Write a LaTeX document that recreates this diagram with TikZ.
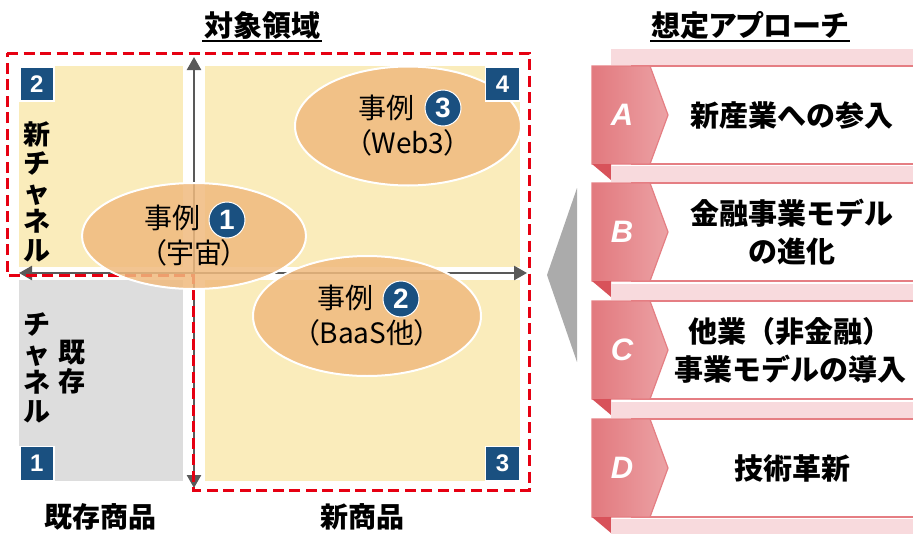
\documentclass[tikz,border=0pt]{standalone}
\usepackage{fontspec}
\setmainfont{Noto Sans CJK JP}
\newfontfamily\jpprop{Noto Sans CJK JP}[RawFeature=+palt]
\newfontfamily\arialfont{Liberation Sans}
\usepackage{tikz}
\usetikzlibrary{shapes.geometric, arrows.meta, positioning, calc}
\usepackage{xcolor}
\definecolor{quadYellow}{RGB}{250,236,187}
\definecolor{quadGray}{RGB}{221,221,221}
\definecolor{axisGray}{RGB}{89,89,89}
\definecolor{scopeRed}{RGB}{230,0,18}
\definecolor{caseOrange}{RGB}{240,186,126}
\definecolor{badgeBlue}{RGB}{26,80,128}
\definecolor{ribbonPink}{RGB}{229,126,131}
\definecolor{tabLeft}{RGB}{226,121,126}
\definecolor{tabRight}{RGB}{236,162,165}
\definecolor{stripPink}{RGB}{248,218,221}
\definecolor{foldRed}{RGB}{216,82,90}
\definecolor{wedgeGray}{RGB}{171,171,171}
\tikzset{
    >={Triangle[length=13pt, width=14pt]},
    % Quadrants
    quad/.style={rectangle, anchor=north west, inner sep=0pt, minimum height=201pt},
    quadY/.style={quad, fill=quadYellow},
    quadG/.style={quad, fill=quadGray},
    badge/.style={rectangle, draw=white, line width=1.5pt, fill=badgeBlue, text=white,
                  minimum size=34pt, inner sep=0pt, font=\arialfont\bfseries\fontsize{24}{24}\selectfont},
    caseEll/.style={ellipse, draw=white, line width=2pt, fill=caseOrange, fill opacity=0.85,
                    text opacity=1, inner sep=0pt, align=center, font=\jpprop\fontsize{28}{35}\selectfont},
    caseNum/.style={circle, draw=white, line width=1pt, fill=badgeBlue, text=white,
                    minimum size=36pt, inner sep=0pt, font=\arialfont\bfseries\fontsize{28}{28}\selectfont},
    % Labels
    vlabel/.style={align=center, inner sep=0pt, font=\bfseries\fontsize{27}{29}\selectfont},
    axlabel/.style={inner sep=0pt, font=\bfseries\fontsize{28}{28}\selectfont},
    title/.style={inner sep=1.5pt, font=\jpprop\bfseries\fontsize{29}{29}\selectfont},
    uline/.style={line width=1.8pt},
    % Lines
    axis/.style={<->, line width=2.5pt, axisGray},
    scopeLine/.style={scopeRed, line width=3pt, dash pattern=on 11pt off 5.5pt},
    % Approaches
    band/.style={draw=ribbonPink, line width=1.8pt, fill=white},
    tab/.style={draw=ribbonPink, line width=1.2pt, left color=tabLeft, right color=tabRight},
    strip/.style={fill=stripPink},
    fold/.style={fill=foldRed},
    tabLetter/.style={text=white, inner sep=0pt, font=\arialfont\bfseries\itshape\fontsize{31}{31}\selectfont},
    rowText/.style={align=center, inner sep=0pt, font=\bfseries\fontsize{29}{38}\selectfont}
}

\begin{document}
\begin{tikzpicture}[x=1pt, y=-1pt]
\useasboundingbox (0,0) rectangle (913,533);

% Quadrants
\node[quadY, minimum width=164pt] (q2) at (19,66) {};
\node[quadY, minimum width=315pt] (q4) at (205,66) {};
\node[quadG, minimum width=164pt] (q1) at (19,280) {};
\node[quadY, minimum width=315pt] (q3) at (205,280) {};

% Axes
\coordinate (vTop) at (194,57);
\coordinate (vBot) at (194,488);
\coordinate (hLeft) at (19,273);
\coordinate (hRight) at (527,273);
\draw[axis] (vTop) -- (vBot);
\draw[axis] (hLeft) -- (hRight);

% Target area
\draw[scopeLine] (7,53) -- (529,53) -- (529,490) -- (193,490) -- (193,275) -- (7,275) -- cycle;

% Cases
\node[caseEll, minimum width=224pt, minimum height=106pt] (case1) at (194,236) {事例\hspace*{44pt}\\（宇宙）};
\node[caseEll, minimum width=228pt, minimum height=120pt] (case2) at (367,316) {事例\hspace*{44pt}\\（BaaS他）};
\node[caseEll, minimum width=226pt, minimum height=119pt] (case3) at (408,126) {事例\hspace*{44pt}\\（Web3）};
\node[caseNum] (num1) at ($(case1.center)+(33,-16)$) {1};
\node[caseNum] (num2) at ($(case2.center)+(34,-17)$) {2};
\node[caseNum] (num3) at ($(case3.center)+(35,-18)$) {3};

\node[badge, anchor=north west] (b2) at (q2.north west) {2};
\node[badge, anchor=north east] (b4) at (q4.north east) {4};
\node[badge, anchor=south west] (b1) at (q1.south west) {1};
\node[badge, anchor=south east] (b3) at (q3.south east) {3};

\node[vlabel] (newCh) at (37,192) {新\\チ\\ャ\\ネ\\ル};
\node[vlabel] (oldChA) at (72,367) {既\\存};
\node[vlabel] (oldChB) at (37,368) {チ\\ャ\\ネ\\ル};
\node[axlabel] (oldProd) at (100,517) {既存商品};
\node[axlabel] (newProd) at (362,517) {新商品};

\node[title] (titleL) at (262,25) {対象領域};
\draw[uline] (titleL.south west) -- (titleL.south east);
\node[title] (titleR) at (750,25) {想定アプローチ};
\draw[uline] (titleR.south west) -- (titleR.south east);

% Approaches
\fill[wedgeGray] (577,188) -- (547,275) -- (577,362) -- cycle;

\coordinate (rowA) at (592,66);
\coordinate (rowB) at (592,183);
\coordinate (rowC) at (592,301);
\coordinate (rowD) at (592,419);

\fill[strip] ($(rowA)+(19,-17)$) rectangle ++(330,16);
\draw[band] ($(rowA)+(40,0)$) rectangle ++(330,98);
\draw[tab] (rowA) -- ++(58,0) -- ++(18,49) -- ++(-18,49) -- ++(-58,0) -- cycle;
\fill[fold] ($(rowA)+(0,98)$) -- ++(19,0) -- ++(0,16) -- cycle;
\node[tabLetter] (letA) at ($(rowA)+(30,49)$) {A};
\node[rowText] (textA) at ($(rowA)+(200,49)$) {新産業への参入};

\fill[strip] ($(rowB)+(19,-17)$) rectangle ++(330,16);
\draw[band] ($(rowB)+(40,0)$) rectangle ++(330,98);
\draw[tab] (rowB) -- ++(58,0) -- ++(18,49) -- ++(-18,49) -- ++(-58,0) -- cycle;
\fill[fold] ($(rowB)+(0,98)$) -- ++(19,0) -- ++(0,16) -- cycle;
\node[tabLetter] (letB) at ($(rowB)+(30,49)$) {B};
\node[rowText] (textB) at ($(rowB)+(200,49)$) {金融事業モデル\\の進化};

\fill[strip] ($(rowC)+(19,-17)$) rectangle ++(330,16);
\draw[band] ($(rowC)+(40,0)$) rectangle ++(330,98);
\draw[tab] (rowC) -- ++(58,0) -- ++(18,49) -- ++(-18,49) -- ++(-58,0) -- cycle;
\fill[fold] ($(rowC)+(0,98)$) -- ++(19,0) -- ++(0,16) -- cycle;
\node[tabLetter] (letC) at ($(rowC)+(30,49)$) {C};
\node[rowText] (textC) at ($(rowC)+(198,49)$) {他業（非金融）\\事業モデルの導入};

\fill[strip] ($(rowD)+(19,-17)$) rectangle ++(330,16);
\draw[band] ($(rowD)+(40,0)$) rectangle ++(330,98);
\draw[tab] (rowD) -- ++(58,0) -- ++(18,49) -- ++(-18,49) -- ++(-58,0) -- cycle;
\fill[fold] ($(rowD)+(0,98)$) -- ++(19,0) -- ++(0,16) -- cycle;
\node[tabLetter] (letD) at ($(rowD)+(30,49)$) {D};
\node[rowText] (textD) at ($(rowD)+(200,49)$) {技術革新};
\fill[strip] ($(rowD)+(19,100)$) rectangle ++(330,16);

\end{tikzpicture}
\end{document}
